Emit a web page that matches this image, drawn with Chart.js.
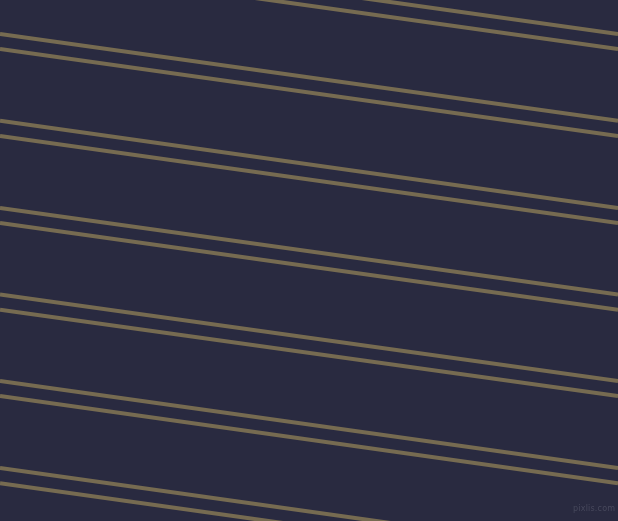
<!DOCTYPE html>
<html>
<head>
<meta charset="utf-8">
<script src="https://cdn.jsdelivr.net/npm/chart.js@4/dist/chart.umd.min.js"></script>
<style>
  html, body { margin: 0; padding: 0; background: #292a40; overflow: hidden; }
  #wrap { position: relative; width: 618px; height: 521px; }
  #mark { position: absolute; left: 573px; top: 504px; font-family: "DejaVu Sans", sans-serif; font-size: 8px; color: #47485c; letter-spacing: 0.2px; }
</style>
</head>
<body>
<div id="wrap">
  <canvas id="c" width="618" height="521"></canvas>
  <div id="mark">pixlis.com</div>
</div>
<script>
// Stripe y-positions read at the left edge (x = 0) and right edge (x = 618)
const leftY  = [-52.8, -37.8, 34, 49, 120.8, 136, 208, 223, 294.5, 309.8, 381, 396, 468, 483.3];
const rightY = [34, 49, 120.8, 136, 208, 223, 294.5, 309.8, 381, 396, 468, 483.3, 555, 570];
const xEnds  = [0, 618];

const bg = {
  id: 'bg',
  beforeDraw(chart) {
    const ctx = chart.ctx;
    ctx.save();
    ctx.fillStyle = '#292a40';
    ctx.fillRect(0, 0, chart.width, chart.height);
    ctx.restore();
  }
};

const datasets = leftY.map((ly, i) => ({
  data: [{ x: xEnds[0], y: ly }, { x: xEnds[1], y: rightY[i] }],
  borderColor: '#766b51',
  borderWidth: 4,
  pointRadius: 0,
  fill: false,
  tension: 0
}));

new Chart(document.getElementById('c'), {
  type: 'line',
  data: { datasets },
  options: {
    responsive: false,
    animation: false,
    devicePixelRatio: 1,
    layout: { padding: 0 },
    plugins: { legend: { display: false }, tooltip: { enabled: false } },
    scales: {
      x: { type: 'linear', min: 0, max: 618, display: false },
      y: { type: 'linear', min: 0, max: 521, reverse: true, display: false }
    }
  },
  plugins: [bg]
});
</script>
</body>
</html>
